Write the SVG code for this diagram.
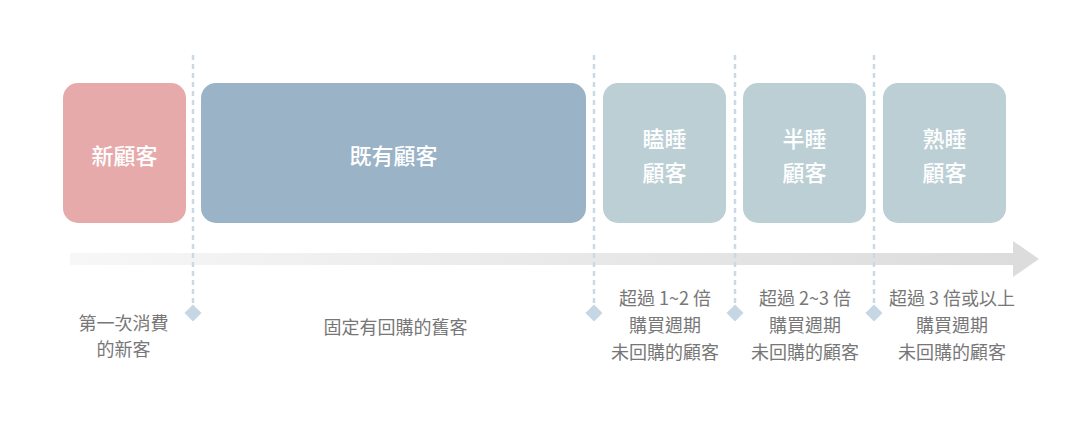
<svg xmlns="http://www.w3.org/2000/svg" width="1077" height="423" viewBox="0 0 1077 423">
<defs>
<style>
.box-label{font-family:"Noto Sans CJK TC","Noto Sans CJK SC",sans-serif;font-size:22px;font-weight:500;fill:#ffffff;text-anchor:middle}
.desc{font-family:"Noto Sans CJK TC","Noto Sans CJK SC",sans-serif;font-size:18px;fill:#777777;text-anchor:middle}
.divider{stroke:#c9d9e6;stroke-width:2.5;stroke-dasharray:5 4;fill:none}
.diamond{fill:#c5d7e5}
</style>
<linearGradient id="shaft" x1="0" y1="0" x2="1" y2="0">
<stop offset="0" stop-color="#f7f7f7"/>
<stop offset="1" stop-color="#dcdcdc"/>
</linearGradient>
</defs>
<rect width="1077" height="423" fill="#ffffff"/>

<g id="timeline">
<rect x="70" y="253" width="944" height="12" fill="url(#shaft)"/>
<polygon points="1013,241 1039,259 1013,277" fill="#dcdcdc"/>
</g>

<g id="connectors">
<line class="divider" x1="193" y1="55" x2="193" y2="305"/>
<polygon class="diamond" points="193,304.5 201.5,313 193,321.5 184.5,313"/>
<line class="divider" x1="594" y1="55" x2="594" y2="305"/>
<polygon class="diamond" points="594,304.5 602.5,313 594,321.5 585.5,313"/>
<line class="divider" x1="735" y1="55" x2="735" y2="305"/>
<polygon class="diamond" points="735,304.5 743.5,313 735,321.5 726.5,313"/>
<line class="divider" x1="874" y1="55" x2="874" y2="305"/>
<polygon class="diamond" points="874,304.5 882.5,313 874,321.5 865.5,313"/>
</g>

<g id="new-customer">
<rect x="63" y="83" width="123" height="140" rx="15" fill="#e6aaaa"/>
<text class="box-label" x="124.5" y="164">新顧客</text>
<text class="desc" x="123.5" y="330">第一次消費</text>
<text class="desc" x="123.5" y="356">的新客</text>
</g>

<g id="existing-customer">
<rect x="201" y="83" width="385" height="140" rx="15" fill="#9ab3c7"/>
<text class="box-label" x="393.5" y="164">既有顧客</text>
<text class="desc" x="395.5" y="334">固定有回購的舊客</text>
</g>

<g id="drowsy-customer">
<rect x="603" y="83" width="123" height="140" rx="15" fill="#bccfd5"/>
<text class="box-label" x="664.5" y="147">瞌睡</text>
<text class="box-label" x="664.5" y="181">顧客</text>
<text class="desc" x="665" y="305">超過 1~2 倍</text>
<text class="desc" x="665" y="332">購買週期</text>
<text class="desc" x="665" y="359">未回購的顧客</text>
</g>

<g id="half-asleep-customer">
<rect x="743" y="83" width="123" height="140" rx="15" fill="#bccfd5"/>
<text class="box-label" x="804.5" y="147">半睡</text>
<text class="box-label" x="804.5" y="181">顧客</text>
<text class="desc" x="805" y="305">超過 2~3 倍</text>
<text class="desc" x="805" y="332">購買週期</text>
<text class="desc" x="805" y="359">未回購的顧客</text>
</g>

<g id="deep-asleep-customer">
<rect x="883" y="83" width="123" height="140" rx="15" fill="#bccfd5"/>
<text class="box-label" x="944.5" y="147">熟睡</text>
<text class="box-label" x="944.5" y="181">顧客</text>
<text class="desc" x="952" y="305">超過 3 倍或以上</text>
<text class="desc" x="952" y="332">購買週期</text>
<text class="desc" x="952" y="359">未回購的顧客</text>
</g>
</svg>
